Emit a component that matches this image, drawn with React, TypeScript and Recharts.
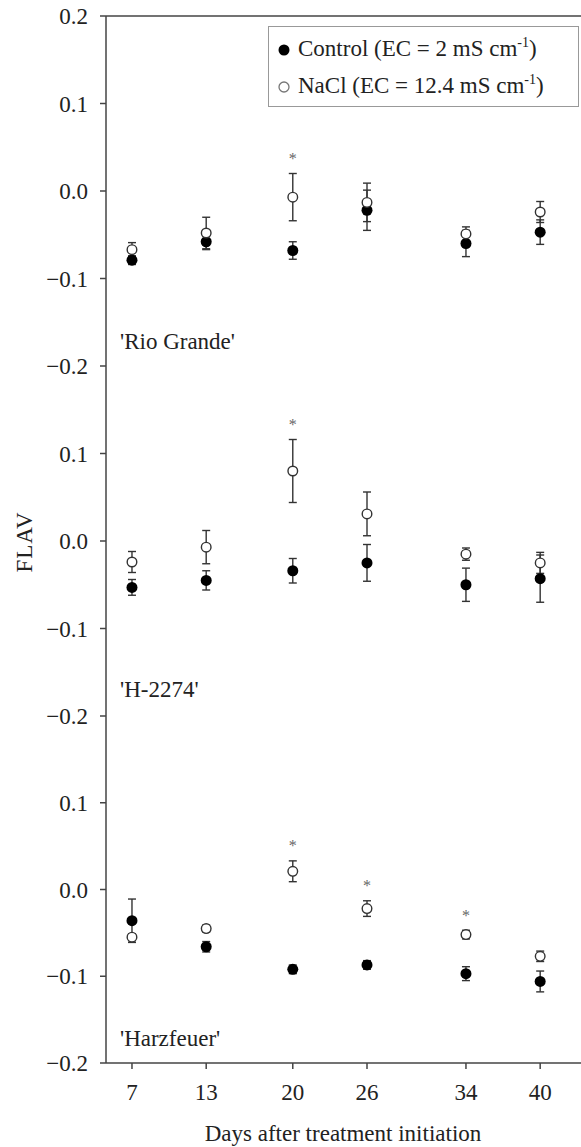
import React from 'react';
import { ScatterChart, Scatter, XAxis, YAxis, ErrorBar, ReferenceLine } from 'recharts';

// sampling days (x)
const days = [7, 13, 20, 26, 34, 40];

// 'Rio Grande'
const rioControl = [-0.079, -0.058, -0.068, -0.022, -0.06, -0.047];
const rioControlErr = [0.005, 0.009, 0.01, 0.023, 0.015, 0.014];
const rioNacl = [-0.067, -0.048, -0.007, -0.013, -0.049, -0.024];
const rioNaclErr = [0.008, 0.018, 0.027, 0.022, 0.008, 0.012];
const rioSig = [20];

// 'H-2274'
const hControl = [-0.053, -0.045, -0.034, -0.025, -0.05, -0.043];
const hControlErr = [0.009, 0.011, 0.014, 0.021, 0.019, 0.027];
const hNacl = [-0.024, -0.007, 0.08, 0.031, -0.015, -0.025];
const hNaclErr = [0.012, 0.019, 0.036, 0.025, 0.007, 0.012];
const hSig = [20];

// 'Harzfeuer'
const harzControl = [-0.036, -0.066, -0.092, -0.087, -0.097, -0.106];
const harzControlErr = [0.025, 0.006, 0.005, 0.005, 0.008, 0.012];
const harzNacl = [-0.055, -0.045, 0.021, -0.022, -0.052, -0.077];
const harzNaclErr = [0.004, 0.004, 0.012, 0.009, 0.005, 0.006];
const harzSig = [20, 26, 34];

const yTicksTop = [-0.2, -0.1, 0, 0.1, 0.2];
const yTicks = [-0.2, -0.1, 0, 0.1];

const SERIF = '"Liberation Serif", "Times New Roman", Times, serif';
const AXIS = '#444';
const TEXT = '#222';
const FS = 23;
const STAR_GAP = 0.019;

const fmt = (v: number) => (v < -1e-9 ? '\u2212' : '') + Math.abs(v).toFixed(1);

const toPoints = (vals: number[], errs: number[]) =>
  days.map((day, i) => ({ day, v: vals[i], err: errs[i] }));

const FilledDot = (p: any) => <circle cx={p.cx} cy={p.cy} r={5.5} fill="#000" />;
const OpenDot = (p: any) => (
  <circle cx={p.cx} cy={p.cy} r={4.8} fill="#fff" stroke="#333" strokeWidth={1.4} />
);
const Star = (p: any) => (
  <text x={p.cx} y={p.cy + 7} textAnchor="middle" fontSize={16} fill="#666" fontFamily={SERIF}>
    *
  </text>
);

interface PanelProps {
  top: number;
  control: number[];
  controlErr: number[];
  nacl: number[];
  naclErr: number[];
  sig: number[];
  first?: boolean;
  last?: boolean;
}

function Panel({ top, control, controlErr, nacl, naclErr, sig, first, last }: PanelProps) {
  const plotH = last ? 347 : 350;
  const height = last ? 447 : 382;
  const stars = sig.map((d) => {
    const i = days.indexOf(d);
    return { day: d, v: nacl[i] + naclErr[i] + STAR_GAP };
  });
  const axisLine = { stroke: AXIS, strokeWidth: 1.5 };
  const tickFont = { fontSize: FS, fill: TEXT, fontFamily: SERIF };

  return (
    <div style={{ position: 'absolute', left: 0, top }}>
      <ScatterChart
        width={581}
        height={height}
        margin={{ top: 16, right: 0, bottom: height - 16 - plotH - (last ? 30 : 0), left: 0 }}
      >
        {last ? (
          <XAxis
            type="number"
            dataKey="day"
            domain={[4.9, 43.3]}
            ticks={days}
            allowDataOverflow
            interval={0}
            height={30}
            tickSize={6}
            tickMargin={15}
            axisLine={axisLine}
            tickLine={axisLine}
            tick={tickFont}
          />
        ) : (
          <XAxis
            type="number"
            dataKey="day"
            domain={[4.9, 43.3]}
            ticks={days}
            allowDataOverflow
            interval={0}
            mirror
            height={0}
            tickSize={8}
            axisLine={axisLine}
            tickLine={axisLine}
            tick={false}
          />
        )}
        <YAxis
          type="number"
          dataKey="v"
          domain={[-0.2, 0.2]}
          ticks={first ? yTicksTop : yTicks}
          interval={0}
          allowDataOverflow
          width={106}
          tickSize={6}
          tickMargin={12}
          tickFormatter={fmt}
          axisLine={axisLine}
          tickLine={axisLine}
          tick={tickFont}
        />
        {first && <ReferenceLine y={0.2} stroke={AXIS} strokeWidth={1.5} />}
        <Scatter data={toPoints(control, controlErr)} shape={FilledDot} isAnimationActive={false}>
          <ErrorBar dataKey="err" direction="y" width={4} stroke="#333" strokeWidth={1.4} />
        </Scatter>
        <Scatter data={toPoints(nacl, naclErr)} shape={OpenDot} isAnimationActive={false}>
          <ErrorBar dataKey="err" direction="y" width={4} stroke="#333" strokeWidth={1.4} />
        </Scatter>
        <Scatter data={stars} shape={Star} isAnimationActive={false} />
      </ScatterChart>
    </div>
  );
}

const labelStyle: React.CSSProperties = {
  position: 'absolute',
  left: 120,
  fontSize: FS,
  lineHeight: '26px',
  color: TEXT,
  whiteSpace: 'nowrap',
};

function LegendRow({ open, children, top }: { open?: boolean; children: React.ReactNode; top: number }) {
  return (
    <div style={{ position: 'absolute', left: 0, top, height: 26, display: 'flex', alignItems: 'center' }}>
      <svg width={29} height={26}>
        {open ? (
          <circle cx={15} cy={13} r={5} fill="#fff" stroke="#777" strokeWidth={1.3} />
        ) : (
          <circle cx={15} cy={13} r={5.5} fill="#000" />
        )}
      </svg>
      <span style={{ fontSize: FS, lineHeight: '26px', color: TEXT, whiteSpace: 'nowrap' }}>{children}</span>
    </div>
  );
}

const sup = (t: string) => (
  <span style={{ fontSize: 14, position: 'relative', top: -9 }}>{t}</span>
);

export default function App() {
  return (
    <div
      style={{
        position: 'absolute',
        left: 0,
        top: 0,
        width: 581,
        height: 1147,
        overflow: 'hidden',
        background: '#fff',
        fontFamily: SERIF,
      }}
    >
      <Panel top={0} control={rioControl} controlErr={rioControlErr} nacl={rioNacl} naclErr={rioNaclErr} sig={rioSig} first />
      <Panel top={350} control={hControl} controlErr={hControlErr} nacl={hNacl} naclErr={hNaclErr} sig={hSig} />
      <Panel top={700} control={harzControl} controlErr={harzControlErr} nacl={harzNacl} naclErr={harzNaclErr} sig={harzSig} last />

      <div style={{ ...labelStyle, top: 329 }}>'Rio Grande'</div>
      <div style={{ ...labelStyle, top: 677 }}>'H-2274'</div>
      <div style={{ ...labelStyle, top: 1026 }}>'Harzfeuer'</div>

      <div
        style={{
          position: 'absolute',
          left: 268,
          top: 26,
          width: 311,
          height: 81,
          border: '1px solid #999',
          boxSizing: 'border-box',
          background: '#fff',
        }}
      >
        <LegendRow top={10}>Control (EC = 2 mS cm{sup('-1')})</LegendRow>
        <LegendRow top={47} open>NaCl (EC = 12.4 mS cm{sup('-1')})</LegendRow>
      </div>

      <div
        style={{
          position: 'absolute',
          left: 25,
          top: 542,
          transform: 'translate(-50%, -50%) rotate(-90deg)',
          fontSize: FS,
          color: TEXT,
          whiteSpace: 'nowrap',
          letterSpacing: 1,
        }}
      >
        FLAV
      </div>
      <div
        style={{
          position: 'absolute',
          left: 343,
          top: 1121,
          transform: 'translateX(-50%)',
          fontSize: FS,
          lineHeight: '26px',
          color: TEXT,
          whiteSpace: 'nowrap',
        }}
      >
        Days after treatment initiation
      </div>
    </div>
  );
}
